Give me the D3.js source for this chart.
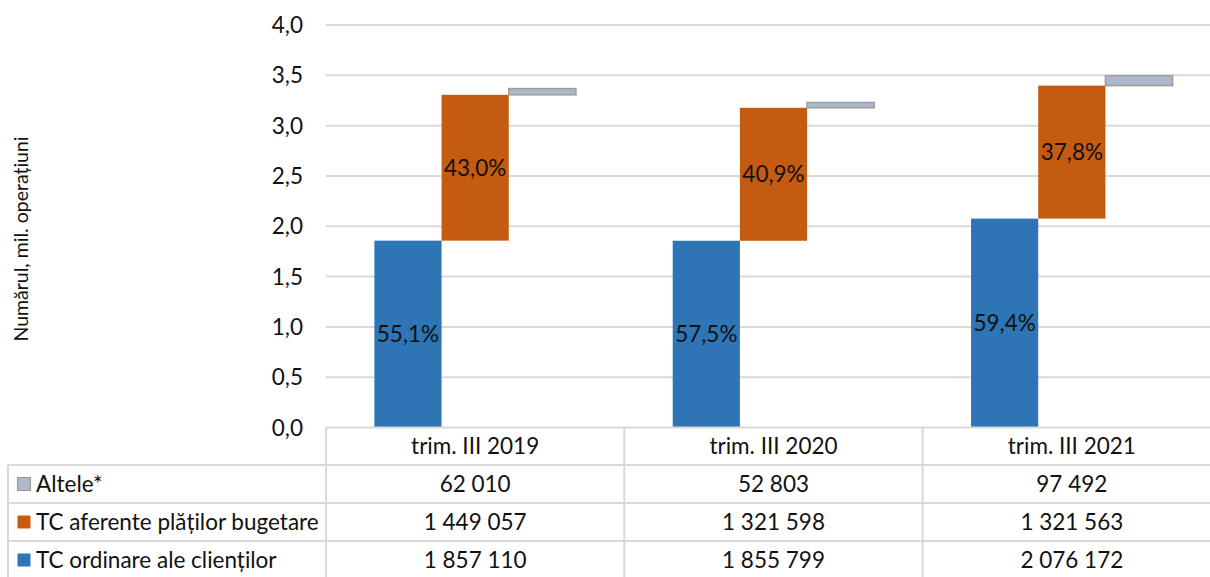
<!DOCTYPE html>
<html><head><meta charset="utf-8">
<script src="https://cdn.jsdelivr.net/npm/d3@7"></script>
<style>
body{margin:0;background:#fff;}
svg{display:block;font-family:Lato,"Open Sans",sans-serif;}
</style></head>
<body>
<svg id="chart" width="1210" height="577"></svg>
<script>
const categories = ["trim. III 2019", "trim. III 2020", "trim. III 2021"];
const seriesNames = ["TC ordinare ale clienților", "TC aferente plăților bugetare", "Altele*"];
const ordinare = [1.857110, 1.855799, 2.076172];
const bugetare = [1.449057, 1.321598, 1.321563];
const altele = [0.062010, 0.052803, 0.097492];
const ordinareTable = ["1 857 110", "1 855 799", "2 076 172"];
const bugetareTable = ["1 449 057", "1 321 598", "1 321 563"];
const alteleTable = ["62 010", "52 803", "97 492"];
const ordinareLabels = ["55,1%", "57,5%", "59,4%"];
const bugetareLabels = ["43,0%", "40,9%", "37,8%"];
const yTicks = [0, 0.5, 1, 1.5, 2, 2.5, 3, 3.5, 4];
const colors = ["#2E75B6", "#C55A11", "#ADB9CA"];

const svg = d3.select("#chart");
const plotLeft = 326, plotRight = 1221, plotTop = 25, plotBottom = 427.5;
const FS = 22.5;
const x = d3.scaleBand().domain(categories).range([plotLeft, plotRight]).paddingInner(0).paddingOuter(0);
const y = d3.scaleLinear().domain([0, 4]).range([plotBottom, plotTop]);
const sub = d3.scaleBand().domain([0,1,2]).range([0, x.bandwidth()]).paddingInner(0).paddingOuter(0.72);

// gridlines
svg.append("g").selectAll("line").data(yTicks.filter(d => d > 0)).join("line")
  .attr("x1", plotLeft).attr("x2", 1210)
  .attr("y1", d => y(d)).attr("y2", d => y(d))
  .attr("stroke", "#d9d9d9").attr("stroke-width", 2);

// y axis labels
const fmt = d => d3.format(".1f")(d).replace(".", ",");
svg.append("g").selectAll("text").data(yTicks).join("text")
  .attr("x", 303).attr("y", d => y(d)).attr("dy", "0.36em")
  .attr("text-anchor", "end").attr("font-size", FS).attr("fill", "#111")
  .text(fmt);

// y axis title
svg.append("text").attr("transform", "translate(21,239) rotate(-90)")
  .attr("text-anchor", "middle").attr("dy", "0.35em").attr("font-size", 19.5).attr("fill", "#111")
  .text("Numărul, mil. operațiuni");

// bars
const segs = [];
categories.forEach((c, i) => {
  segs.push({c, s: 0, y0: 0, y1: ordinare[i], label: ordinareLabels[i]});
  segs.push({c, s: 1, y0: ordinare[i], y1: ordinare[i] + bugetare[i], label: bugetareLabels[i]});
  segs.push({c, s: 2, y0: ordinare[i] + bugetare[i], y1: ordinare[i] + bugetare[i] + altele[i], label: null});
});
svg.append("g").selectAll("rect").data(segs).join("rect")
  .attr("x", d => x(d.c) + sub(d.s))
  .attr("width", sub.bandwidth())
  .attr("y", d => y(d.y1))
  .attr("height", d => y(d.y0) - y(d.y1))
  .attr("fill", d => colors[d.s])
  .attr("stroke", d => d.s === 2 ? "#9d9d9d" : "none")
  .attr("stroke-width", 1.5);

svg.append("g").selectAll("text").data(segs.filter(d => d.label)).join("text")
  .attr("x", d => x(d.c) + sub(d.s) + sub.bandwidth()/2)
  .attr("y", d => (y(d.y0) + y(d.y1))/2)
  .attr("dy", "0.36em").attr("text-anchor", "middle")
  .attr("font-size", FS).attr("fill", "#111")
  .text(d => d.label);

// table
const rowH = 38;
const rows = [
  {name: seriesNames[2], vals: alteleTable, color: colors[2], stroke: "#9d9d9d"},
  {name: seriesNames[1], vals: bugetareTable, color: colors[1], stroke: "none"},
  {name: seriesNames[0], vals: ordinareTable, color: colors[0], stroke: "none"}
];
const tbl = svg.append("g");
const lineCol = "#d9d9d9";
const headerBottom = 465;
// top line of header (axis baseline)
tbl.append("line").attr("x1", plotLeft).attr("x2", 1210).attr("y1", plotBottom).attr("y2", plotBottom)
  .attr("stroke", lineCol).attr("stroke-width", 2);
categories.forEach(c => {
  tbl.append("line").attr("x1", x(c)).attr("x2", x(c))
    .attr("y1", plotBottom).attr("y2", 577).attr("stroke", lineCol).attr("stroke-width", 2);
});
tbl.append("line").attr("x1", 8).attr("x2", 8).attr("y1", headerBottom).attr("y2", 577)
  .attr("stroke", lineCol).attr("stroke-width", 2);
[0,1,2].forEach(r => {
  tbl.append("line").attr("x1", 8).attr("x2", 1210)
    .attr("y1", headerBottom + r*rowH).attr("y2", headerBottom + r*rowH)
    .attr("stroke", lineCol).attr("stroke-width", 2);
});
// header labels
tbl.selectAll("text.h").data(categories).join("text").attr("class","h")
  .attr("x", d => x(d) + x.bandwidth()/2)
  .attr("y", (plotBottom + headerBottom)/2).attr("dy", "0.36em")
  .attr("text-anchor", "middle").attr("font-size", FS).attr("fill", "#111")
  .text(d => d);
rows.forEach((row, r) => {
  const cy = headerBottom + r*rowH + rowH/2;
  tbl.append("rect").attr("x", 17.5).attr("y", cy - 6.5).attr("width", 13).attr("height", 13)
    .attr("fill", row.color).attr("stroke", row.stroke).attr("stroke-width", 1.2);
  tbl.append("text").attr("x", 36).attr("y", cy).attr("dy", "0.36em")
    .attr("font-size", FS).attr("fill", "#111").text(row.name);
  categories.forEach((c, i) => {
    tbl.append("text").attr("x", x(c) + x.bandwidth()/2).attr("y", cy).attr("dy", "0.36em")
      .attr("text-anchor", "middle").attr("font-size", FS).attr("fill", "#111").text(row.vals[i]);
  });
});
</script>
</body></html>
